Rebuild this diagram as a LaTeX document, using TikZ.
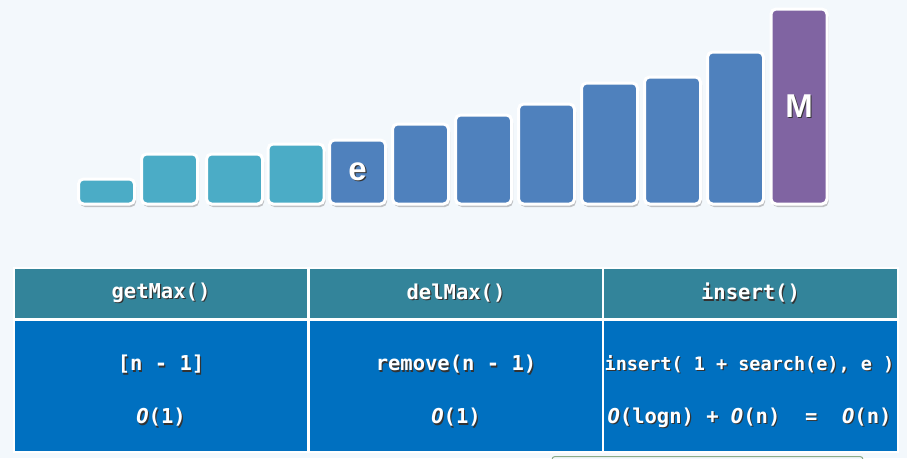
\documentclass[tikz,border=0pt]{standalone}
\usepackage{fontspec}
\setmainfont{Liberation Sans}
\setmonofont{DejaVu Sans Mono}
\usetikzlibrary{shadows}
\definecolor{cBg}{HTML}{F3F8FC}
\definecolor{cTeal}{HTML}{4BACC6}
\definecolor{cBlue}{HTML}{4F81BD}
\definecolor{cPurple}{HTML}{8064A2}
\definecolor{cHead}{HTML}{33849A}
\definecolor{cBody}{HTML}{0070C0}
\definecolor{cGreen}{HTML}{8AAA88}
\newcommand\shtext[1]{\makebox[0pt][l]{\hspace{1.2pt}\raisebox{-1.2pt}{\color{black!80}#1}}#1}
\newcommand\bigO{{\itshape O}}
\tikzset{
  bar/.style={draw=white, line width=3pt, rounded corners=5pt, minimum width=56pt,
    anchor=south, inner sep=0pt, text=white,
    font=\fontsize{33}{33}\selectfont\bfseries,
    drop shadow={shadow xshift=1.5pt, shadow yshift=-3pt, fill=black!50, opacity=0.45}},
  cell/.style={inner sep=0pt, draw=none},
  tabtext/.style={text=white, font=\fontsize{20.5}{22}\selectfont\ttfamily\bfseries, inner sep=0pt},
  tabsmall/.style={tabtext, font=\fontsize{18.5}{20}\selectfont\ttfamily\bfseries}
}
\begin{document}
\begin{tikzpicture}[x=1pt,y=-1pt]
\fill[cBg] (0,0) rectangle (907,458);
\useasboundingbox (0,0) rectangle (907,458);
% bars
\node[bar, fill=cTeal,   minimum height=25pt]  (b1)  at (106.5,205.5) {};
\node[bar, fill=cTeal,   minimum height=50pt]  (b2)  at (169.5,205.5) {};
\node[bar, fill=cTeal,   minimum height=50pt]  (b3)  at (234.5,205.5) {};
\node[bar, fill=cTeal,   minimum height=60pt]  (b4)  at (296,205.5) {};
\node[bar, fill=cBlue,   minimum height=64pt]  (b5)  at (357.5,205.5) {\shtext{e}};
\node[bar, fill=cBlue,   minimum height=80pt]  (b6)  at (420.5,205.5) {};
\node[bar, fill=cBlue,   minimum height=89pt]  (b7)  at (483.5,205.5) {};
\node[bar, fill=cBlue,   minimum height=100pt] (b8)  at (546.5,205.5) {};
\node[bar, fill=cBlue,   minimum height=121pt] (b9)  at (609.5,205.5) {};
\node[bar, fill=cBlue,   minimum height=127pt] (b10) at (672.5,205.5) {};
\node[bar, fill=cBlue,   minimum height=152pt] (b11) at (735.5,205.5) {};
\node[bar, fill=cPurple, minimum height=195pt] (b12) at (799,205.5) {\shtext{M}};
% bottom partial box
\node[draw=cGreen, line width=1pt, fill=cBg, rounded corners=3pt, minimum width=311pt, minimum height=30pt, inner sep=0pt] (pbox) at (707.5,471.5) {};
% table
\node[fill=white, inner sep=0pt, minimum width=886pt, minimum height=186pt] (tab) at (456,360) {};
\node[cell, fill=cHead, minimum width=292pt, minimum height=49pt] (h1) at (161,293.5) {};
\node[cell, fill=cHead, minimum width=292pt, minimum height=49pt] (h2) at (456,293.5) {};
\node[cell, fill=cHead, minimum width=293pt, minimum height=49pt] (h3) at (750.5,293.5) {};
\node[cell, fill=cBody, minimum width=292pt, minimum height=130pt] (c1) at (161,386) {};
\node[cell, fill=cBody, minimum width=292pt, minimum height=130pt] (c2) at (456,386) {};
\node[cell, fill=cBody, minimum width=293pt, minimum height=130pt] (c3) at (750.5,386) {};
% header texts
\node[tabtext] (t1) at (h1) {\shtext{getMax()}};
\node[tabtext] (t2) at (h2) {\shtext{delMax()}};
\node[tabtext] (t3) at (h3) {\shtext{insert()}};
% body texts
\node[tabtext] (r11) at (161,365) {\shtext{[n - 1]}};
\node[tabtext] (r12) at (161,418) {\shtext{\bigO(1)}};
\node[tabtext] (r21) at (456,365) {\shtext{remove(n - 1)}};
\node[tabtext] (r22) at (456,418) {\shtext{\bigO(1)}};
\node[tabsmall] (r31) at (749.5,365) {\shtext{insert( 1 + search(e), e )}};
\node[tabtext] (r32) at (749.5,418) {\shtext{\bigO(logn) + \bigO(n)\ \ =\ \ \bigO(n)}};
\end{tikzpicture}
\end{document}
